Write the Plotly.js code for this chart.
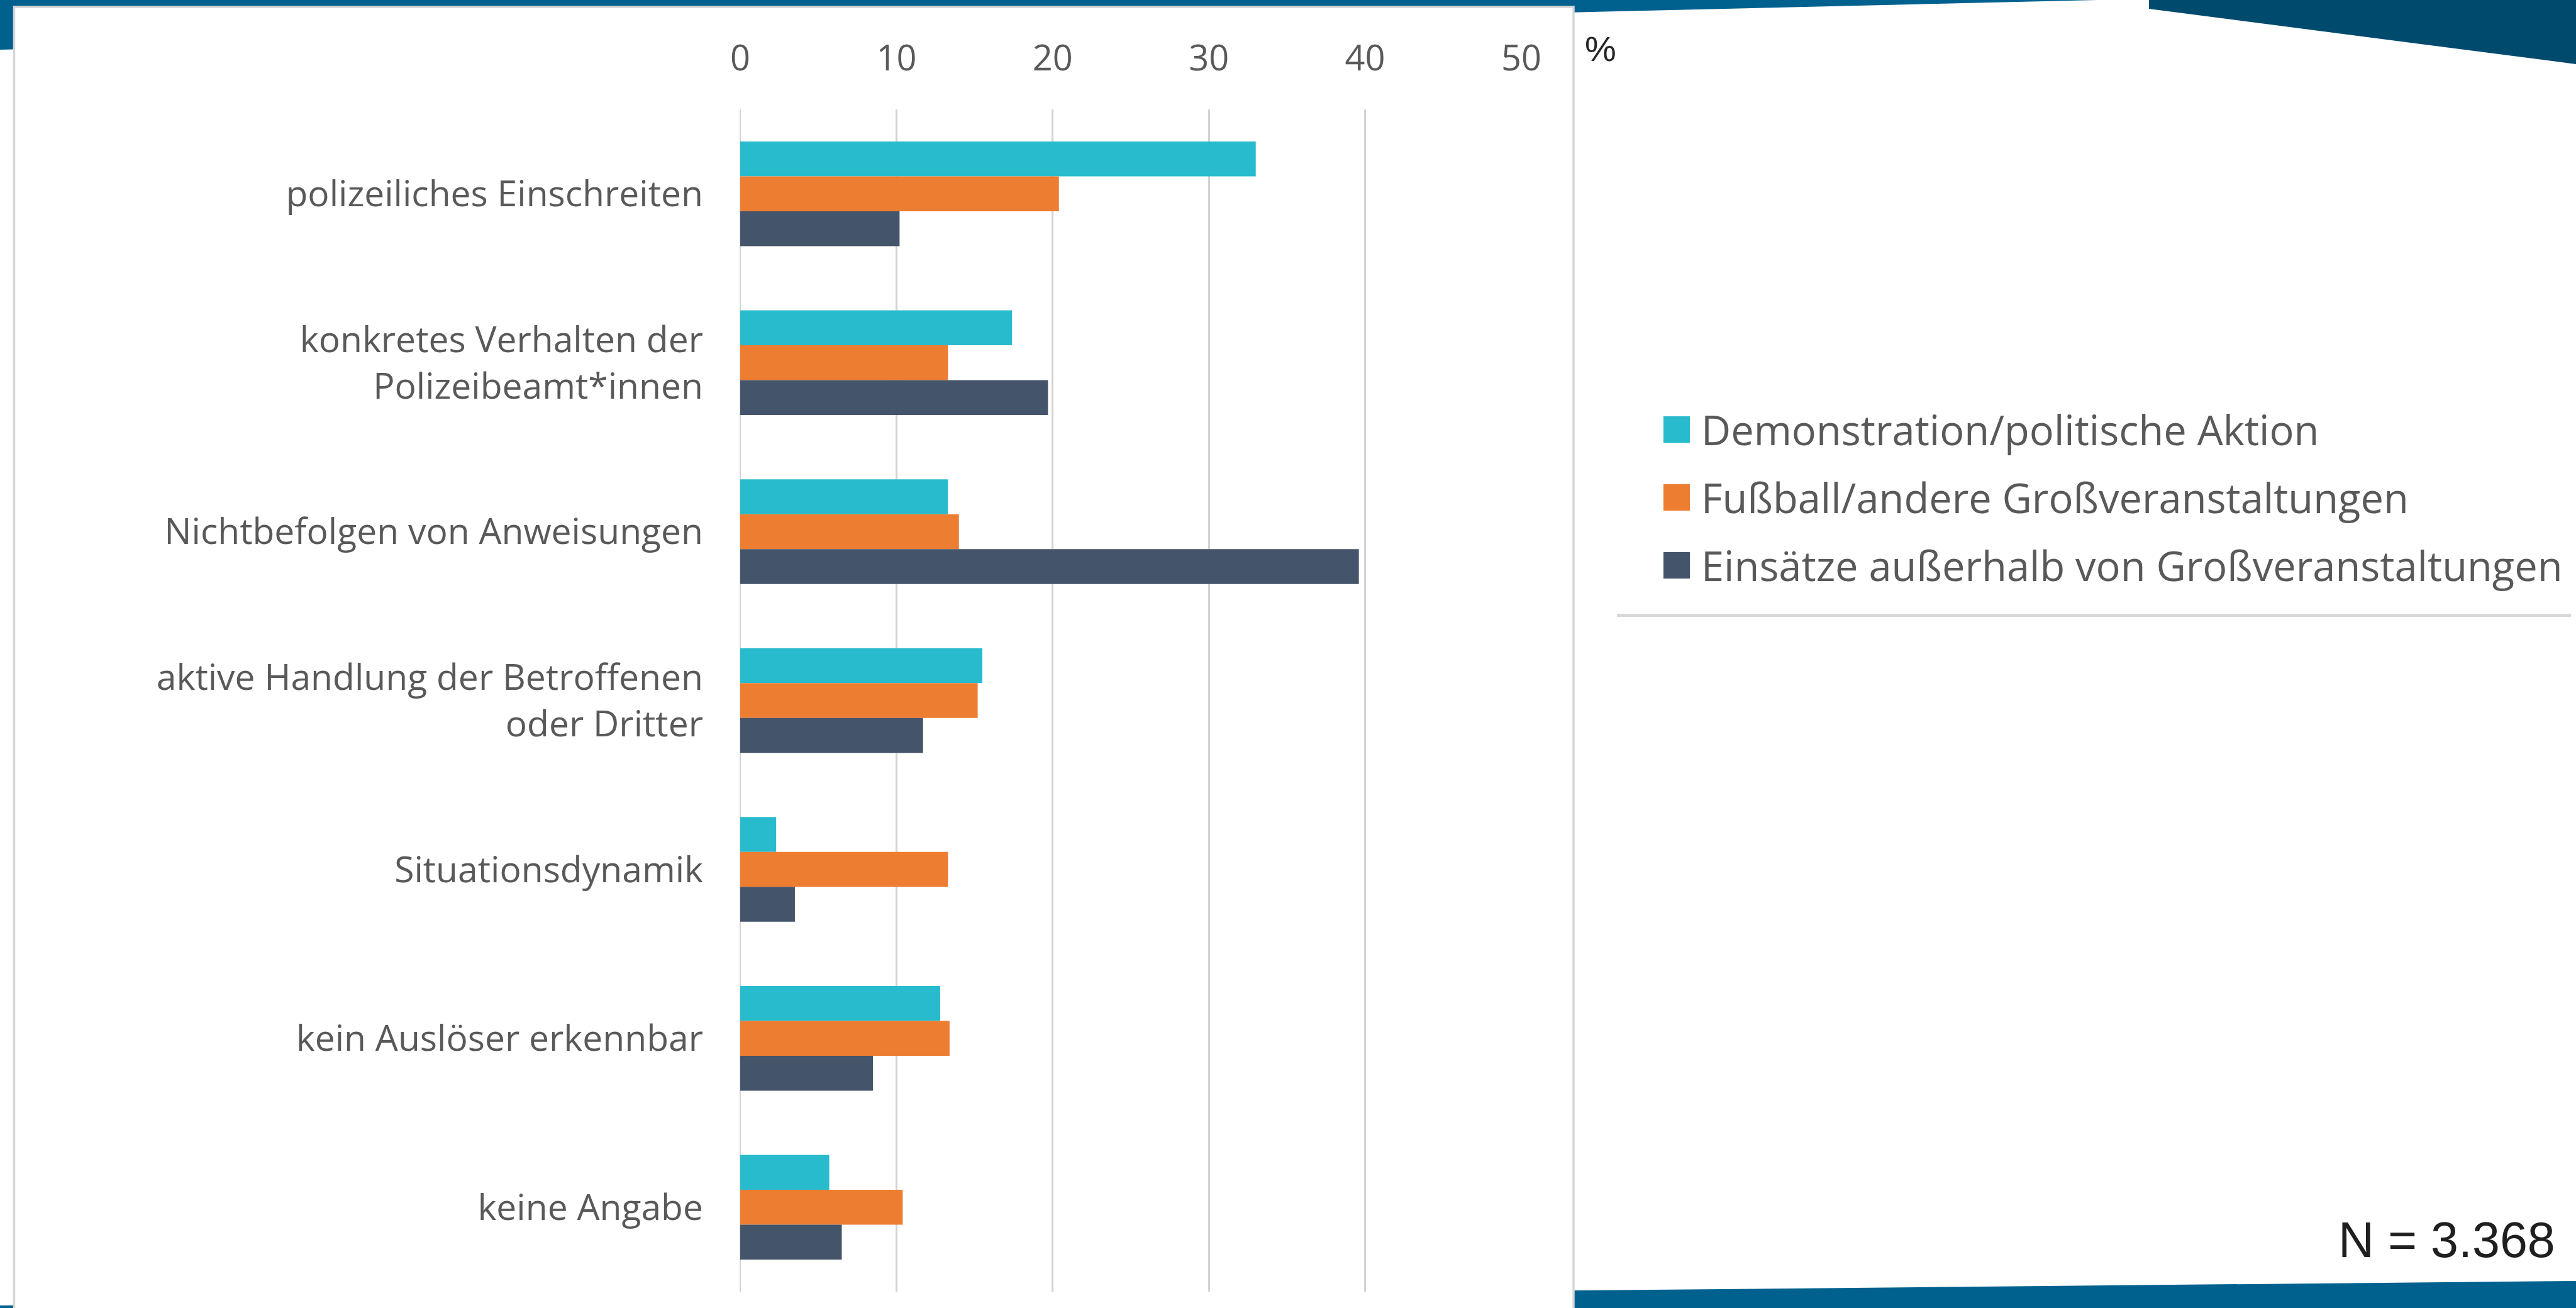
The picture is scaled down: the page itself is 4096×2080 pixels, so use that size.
<!DOCTYPE html>
<html>
<head>
<meta charset="utf-8">
<script src="https://cdn.plot.ly/plotly-3.0.1.min.js"></script>
<style>
  html, body { margin: 0; padding: 0; background: #ffffff; }
  #chart { width: 4096px; height: 2080px; }
</style>
</head>
<body>
<div id="chart"></div>
<script>
// ---------- data ----------
const categories = [
  'polizeiliches Einschreiten',
  'konkretes Verhalten der<br>Polizeibeamt*innen',
  'Nichtbefolgen von Anweisungen',
  'aktive Handlung der Betroffenen<br>oder Dritter',
  'Situationsdynamik',
  'kein Auslöser erkennbar',
  'keine Angabe'
];
const seriesNames = [
  'Demonstration/politische Aktion',
  'Fußball/andere Großveranstaltungen',
  'Einsätze außerhalb von Großveranstaltungen'
];
const demoValues      = [33.0, 17.4, 13.3, 15.5, 2.3, 12.8, 5.7];
const fussballValues  = [20.4, 13.3, 14.0, 15.2, 13.3, 13.4, 10.4];
const einsatzValues   = [10.2, 19.7, 39.6, 11.7, 3.5, 8.5, 6.5];
const tickValues = [0, 10, 20, 30, 40, 50];
const tickLabels = ['0', '10', '20', '30', '40', '50'];
const unitLabel = '%';
const sampleLabel = 'N = 3.368';

// ---------- styling ----------
const colors = ['#28BBCE', '#ED7D31', '#44546A'];
const W = 4096, H = 2080;
const L = 1177, R = 2419, T = 174, B = 2054;
const PW = R - L, PH = B - T;
const X = px => (px - L) / PW;
const Y = py => (B - py) / PH;
const FONT = 'Open Sans, Noto Sans, sans-serif';

const valueSets = [demoValues, fussballValues, einsatzValues];
const traces = valueSets.map((vals, i) => ({
  type: 'bar',
  orientation: 'h',
  name: seriesNames[i],
  y: categories,
  x: vals,
  marker: { color: colors[i], line: { width: 0 } },
  hoverinfo: 'none'
}));

function poly(pts, color) {
  const d = pts.map((p, i) => (i ? 'L' : 'M') + X(p[0]) + ',' + Y(p[1])).join(' ') + ' Z';
  return { type: 'path', xref: 'paper', yref: 'paper', path: d,
           fillcolor: color, line: { width: 0 }, layer: 'below' };
}

const shapes = [
  poly([[0, 0], [3336, 0], [0, 79]], '#00618F'),
  poly([[3417, 0], [W, 0], [W, 102], [3417, 14]], '#004A6E'),
  poly([[0, 2076], [W, 2037], [W, H], [0, H]], '#00618F'),
  { type: 'rect', xref: 'paper', yref: 'paper', layer: 'below',
    x0: X(22.5), x1: X(2502), y0: Y(11), y1: Y(2095),
    fillcolor: '#ffffff', line: { color: '#d6d6d6', width: 3.5 } },
  { type: 'line', xref: 'paper', yref: 'paper', layer: 'below',
    x0: X(2571), x1: X(4088), y0: Y(978.5), y1: Y(978.5),
    line: { color: '#d9d9d9', width: 5 } }
];

const legendCenters = [683, 791, 899];
const annotations = [];
legendCenters.forEach((cy, i) => {
  shapes.push({ type: 'rect', xref: 'paper', yref: 'paper', layer: 'above',
    x0: X(2645), x1: X(2687), y0: Y(cy - 21), y1: Y(cy + 21),
    fillcolor: colors[i], line: { width: 0 } });
  annotations.push({ xref: 'paper', yref: 'paper', x: X(2703), y: Y(cy),
    xanchor: 'left', yanchor: 'middle', showarrow: false, text: seriesNames[i],
    font: { family: FONT, size: 65, color: '#595959' } });
});
annotations.push({ xref: 'paper', yref: 'paper', x: X(2545), y: Y(78),
  xanchor: 'center', yanchor: 'middle', showarrow: false, text: unitLabel,
  font: { family: 'Liberation Sans, Arial, sans-serif', size: 56, color: '#262626' } });
annotations.push({ xref: 'paper', yref: 'paper', x: X(4065), y: Y(1971),
  xanchor: 'right', yanchor: 'middle', showarrow: false, text: sampleLabel,
  font: { family: 'Liberation Sans, Arial, sans-serif', size: 79, color: '#1f1f1f' } });

const layout = {
  width: W, height: H,
  margin: { l: L, r: W - R, t: T, b: H - B, pad: 0, autoexpand: false },
  paper_bgcolor: '#ffffff',
  plot_bgcolor: 'rgba(0,0,0,0)',
  showlegend: false,
  barmode: 'group',
  bargap: 0.38,
  bargroupgap: 0,
  xaxis: {
    range: [0, 50], side: 'top', tickmode: 'array',
    tickvals: tickValues, ticktext: tickLabels,
    showgrid: true, gridcolor: '#d3d3d3', gridwidth: 2.7,
    zeroline: true, zerolinecolor: '#d3d3d3', zerolinewidth: 2.7,
    showline: false, ticks: '',
    ticklabelstandoff: 50, automargin: false, fixedrange: true,
    tickfont: { family: FONT, size: 56, color: '#595959' }
  },
  yaxis: {
    type: 'category', autorange: 'reversed',
    categoryorder: 'array', categoryarray: categories,
    showgrid: false, zeroline: false, showline: false, ticks: '',
    ticklabelstandoff: 58, automargin: false, fixedrange: true,
    tickfont: { family: FONT, size: 57, color: '#595959' }
  },
  shapes: shapes,
  annotations: annotations
};

Plotly.newPlot('chart', traces, layout, { displayModeBar: false, staticPlot: true });
</script>
</body>
</html>
